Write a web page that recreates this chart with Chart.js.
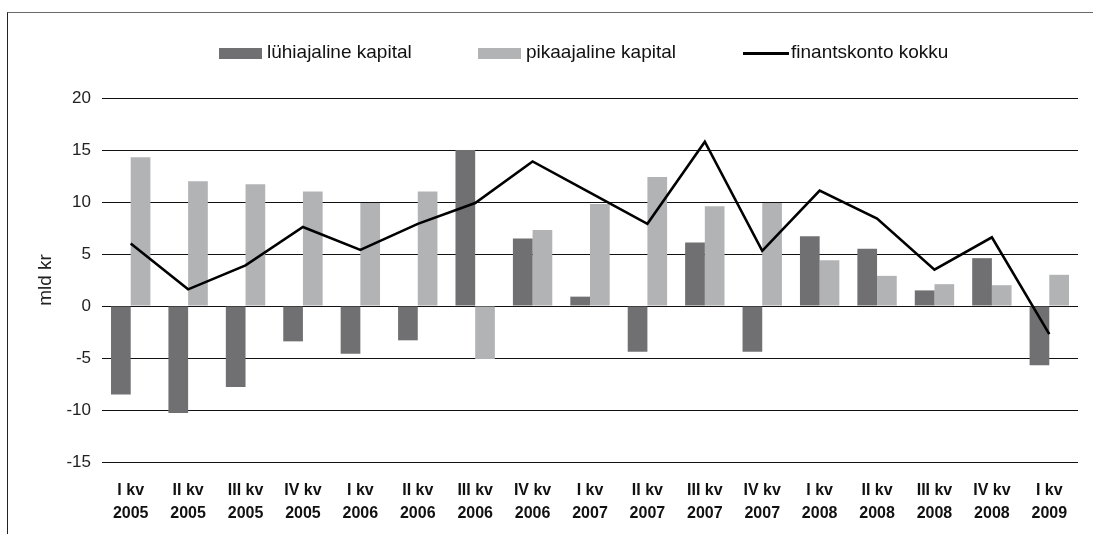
<!DOCTYPE html>
<html>
<head>
<meta charset="utf-8">
<script src="https://cdn.jsdelivr.net/npm/chart.js@4.4.1/dist/chart.umd.min.js"></script>
<style>
    body { margin: 0; background: #fff; font-family: "Liberation Sans", Arial, sans-serif; }
    #wrap { position: relative; width: 1093px; height: 534px; overflow: hidden; }
    #frame { position: absolute; left: 7px; top: 12px; width: 1100px; height: 600px; border-top: 1px solid #6a6a6a; border-left: 1px solid #222; }
    canvas { position: absolute; left: 0; top: 0; }
    .lg { position: absolute; top: 41px; font-size: 19px; color: #111; line-height: 22px; white-space: nowrap; }
    .sw { position: absolute; }
</style>
</head>
<body>
<div id="wrap">
    <div id="frame"></div>
    <canvas id="myChart" width="1093" height="534"></canvas>
    <div id="legend"></div>
</div>
<script>
const categories = [
    ['I kv', '2005'], ['II kv', '2005'], ['III kv', '2005'], ['IV kv', '2005'],
    ['I kv', '2006'], ['II kv', '2006'], ['III kv', '2006'], ['IV kv', '2006'],
    ['I kv', '2007'], ['II kv', '2007'], ['III kv', '2007'], ['IV kv', '2007'],
    ['I kv', '2008'], ['II kv', '2008'], ['III kv', '2008'], ['IV kv', '2008'],
    ['I kv', '2009']
];
const luhiajaline = [-8.5, -10.3, -7.8, -3.4, -4.6, -3.3, 15.0, 6.5, 0.9, -4.4, 6.1, -4.4, 6.7, 5.5, 1.5, 4.6, -5.7];
const pikaajaline = [14.3, 12.0, 11.7, 11.0, 9.9, 11.0, -5.1, 7.3, 9.8, 12.4, 9.6, 9.9, 4.4, 2.9, 2.1, 2.0, 3.0];
const finantskonto = [6.0, 1.6, 3.9, 7.6, 5.4, 7.9, 9.9, 13.9, 10.9, 7.9, 15.8, 5.3, 11.1, 8.4, 3.5, 6.6, -2.7];
const yTicks = { min: -15, max: 20, step: 5 };

const darkGrey = '#707072';
const lightGrey = '#b2b3b5';

// legend drawn as html, chart.js legend hidden
var legendItems = [
    { text: 'lühiajaline kapital', color: darkGrey, type: 'box', x: 219 },
    { text: 'pikaajaline kapital', color: lightGrey, type: 'box', x: 478 },
    { text: 'finantskonto kokku', color: '#000', type: 'line', x: 743 }
];
var legendHtml = '';
legendItems.forEach(function (item) {
    var sw = item.type == 'box'
        ? `<span class="sw" style="left:${item.x}px;top:48px;width:43px;height:11px;background:${item.color}"></span>`
        : `<span class="sw" style="left:${item.x}px;top:52px;width:46px;height:3px;background:${item.color}"></span>`;
    legendHtml += sw + `<span class="lg" style="left:${item.x + 48}px">${item.text}</span>`;
});
document.getElementById('legend').innerHTML = legendHtml;

new Chart('myChart', {
    type: 'bar',
    data: {
        labels: categories,
        datasets: [{
            type: 'line',
            label: 'finantskonto kokku',
            data: finantskonto,
            borderColor: '#000',
            borderWidth: 2.6,
            pointRadius: 0,
            tension: 0,
            fill: false,
            order: 0
        }, {
            label: 'lühiajaline kapital',
            data: luhiajaline,
            backgroundColor: darkGrey,
            categoryPercentage: 0.686,
            barPercentage: 1,
            order: 1
        }, {
            label: 'pikaajaline kapital',
            data: pikaajaline,
            backgroundColor: lightGrey,
            categoryPercentage: 0.686,
            barPercentage: 1,
            order: 2
        }]
    },
    options: {
        responsive: false,
        animation: false,
        layout: { padding: { left: 7, right: 15, top: 98, bottom: 0 } },
        plugins: {
            legend: { display: false },
            tooltip: { enabled: false }
        },
        scales: {
            x: {
                grid: { display: false },
                border: { display: false },
                ticks: {
                    autoSkip: false,
                    maxRotation: 0,
                    padding: 9,
                    color: '#111',
                    font: { family: '"Liberation Sans", Arial, sans-serif', size: 16, weight: 'bold', lineHeight: '23px' }
                },
                afterFit: function (scale) { scale.height = 72; }
            },
            y: {
                min: yTicks.min,
                max: yTicks.max,
                border: { display: false },
                grid: { color: '#111', lineWidth: 1, drawTicks: false },
                ticks: {
                    stepSize: yTicks.step,
                    padding: 11,
                    color: '#222',
                    font: { family: '"Liberation Sans", Arial, sans-serif', size: 17 }
                },
                title: {
                    display: true,
                    text: 'mld kr',
                    color: '#222',
                    padding: { top: 27, bottom: 0 },
                    font: { family: '"Liberation Sans", Arial, sans-serif', size: 19 }
                },
                afterFit: function (scale) { scale.width = 95; }
            }
        }
    }
});
</script>
</body>
</html>
